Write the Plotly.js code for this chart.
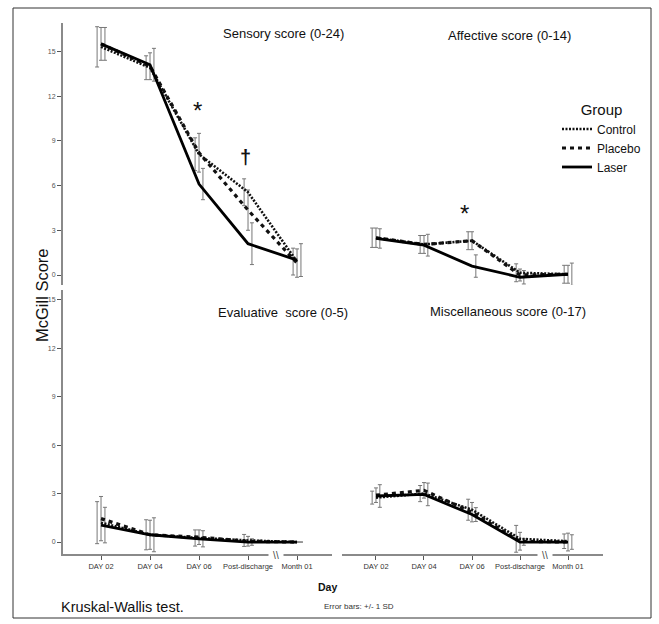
<!DOCTYPE html>
<html>
<head>
<meta charset="utf-8">
<script src="https://cdn.plot.ly/plotly-3.0.1.min.js"></script>
<style>
html,body{margin:0;padding:0;background:#fff;}
#chart{width:659px;height:624px;}
</style>
</head>
<body>
<div id="chart"></div>
<script>
// ---- data ----
const days = ['DAY 02', 'DAY 04', 'DAY 06', 'Post-discharge', 'Month 01'];
const groups = ['Control', 'Placebo', 'Laser'];
const panelTitles = ['Sensory score (0-24)', 'Affective score (0-14)', 'Evaluative  score (0-5)', 'Miscellaneous score (0-17)'];

const sensoryControl = [15.3, 13.9, 8.1, 5.55, 0.9];
const sensoryPlacebo = [15.5, 14.0, 8.2, 4.35, 0.8];
const sensoryLaser   = [15.5, 14.1, 6.1, 2.1, 1.0];
const sensoryControlSD = [1.35, 0.8, 1.1, 0.9, 0.9];
const sensoryPlaceboSD = [1.1, 0.9, 1.3, 1.35, 0.95];
const sensoryLaserSD   = [1.1, 1.1, 1.05, 1.4, 1.1];

const affectiveControl = [2.5, 2.05, 2.3, 0.15, 0.05];
const affectivePlacebo = [2.5, 2.05, 2.3, 0.0, 0.05];
const affectiveLaser   = [2.45, 2.0, 0.6, -0.15, 0.05];
const affectiveControlSD = [0.65, 0.6, 0.6, 0.6, 0.6];
const affectivePlaceboSD = [0.65, 0.6, 0.6, 0.4, 0.6];
const affectiveLaserSD   = [0.65, 0.73, 0.75, 0.45, 0.75];

const evaluativeControl = [1.2, 0.45, 0.25, 0.1, 0];
const evaluativePlacebo = [1.45, 0.45, 0.3, 0.05, 0];
const evaluativeLaser   = [1.05, 0.45, 0.2, 0.0, 0];
const evaluativeControlSD = [1.3, 0.93, 0.5, 0.37, 0];
const evaluativePlaceboSD = [1.37, 0.9, 0.45, 0.3, 0];
const evaluativeLaserSD   = [1.1, 1.05, 0.5, 0.2, 0];

const miscControl = [2.75, 3.0, 2.0, 0.2, 0.05];
const miscPlacebo = [2.9, 3.2, 1.85, 0.05, 0.0];
const miscLaser   = [2.85, 2.95, 1.7, 0.0, 0.0];
const miscControlSD = [0.4, 0.5, 0.65, 0.83, 0.45];
const miscPlaceboSD = [0.45, 0.48, 0.6, 0.55, 0.55];
const miscLaserSD   = [0.7, 0.7, 0.43, 0.2, 0.45];

const yTicks = [0, 3, 6, 9, 12, 15];

// ---- build ----
const W = 659, H = 624;
const px = v => v / W;
const py = v => 1 - v / H;

const panels = [
  {xa: 'x',  ya: 'y',  vals: [sensoryControl, sensoryPlacebo, sensoryLaser], sds: [sensoryControlSD, sensoryPlaceboSD, sensoryLaserSD]},
  {xa: 'x2', ya: 'y2', vals: [affectiveControl, affectivePlacebo, affectiveLaser], sds: [affectiveControlSD, affectivePlaceboSD, affectiveLaserSD]},
  {xa: 'x3', ya: 'y3', vals: [evaluativeControl, evaluativePlacebo, evaluativeLaser], sds: [evaluativeControlSD, evaluativePlaceboSD, evaluativeLaserSD]},
  {xa: 'x4', ya: 'y4', vals: [miscControl, miscPlacebo, miscLaser], sds: [miscControlSD, miscPlaceboSD, miscLaserSD]}
];

const lineStyles = [
  {color: '#111', width: 2.6, dash: '2px,1.5px'},
  {color: '#111', width: 3.2, dash: '4px,4px'},
  {color: '#000', width: 2.8, dash: 'solid'}
];
const offsets = [-0.08, 0, 0.08];
const idx = days.map((d, i) => i);

const traces = [];
// error bars first (behind lines)
panels.forEach(p => {
  groups.forEach((g, gi) => {
    traces.push({
      type: 'scatter', mode: 'markers', xaxis: p.xa, yaxis: p.ya,
      x: idx.map(i => i + offsets[gi]), y: p.vals[gi],
      marker: {size: 1, color: 'rgba(0,0,0,0)'},
      error_y: {type: 'data', array: p.sds[gi], visible: true, color: '#777', thickness: 1, width: 2},
      showlegend: false, hoverinfo: 'skip'
    });
  });
});
panels.forEach((p, pi) => {
  groups.forEach((g, gi) => {
    traces.push({
      type: 'scatter', mode: 'lines', xaxis: p.xa, yaxis: p.ya,
      x: idx, y: p.vals[gi], name: g,
      line: lineStyles[gi],
      showlegend: pi === 0, legendgroup: g
    });
  });
});

const xLeftRange = [-0.776, 4.714];
const xRightRange = [-0.708, 4.729];
const yTopRange = [-0.67, 16.9];
const yBotRange = [-0.74, 15.6];
const topDom = [py(285), py(23)];
const botDom = [py(554), py(290)];
const leftDom = [px(63), px(332)];
const rightDom = [px(342), px(603)];

const hidden = {visible: false, showgrid: false, zeroline: false, fixedrange: true};
const yShown = {
  showline: true, linecolor: '#8a8a8a', linewidth: 2, ticks: 'outside', ticklen: 4, tickwidth: 1, tickcolor: '#555',
  tickvals: yTicks, ticktext: yTicks.map(String), tickfont: {size: 7, color: '#555', family: 'Liberation Sans, Arial, sans-serif'},
  showgrid: false, zeroline: false
};
const xShown = {
  showline: true, linecolor: '#8a8a8a', linewidth: 2, ticks: 'outside', ticklen: 4, tickwidth: 1, tickcolor: '#555',
  tickvals: idx, ticktext: days, tickfont: {size: 7.5, color: '#333', family: 'Liberation Sans, Arial, sans-serif'},
  showgrid: false, zeroline: false, tickangle: 0
};

const font = 'Liberation Sans, Arial, sans-serif';
function note(o) {
  return Object.assign({showarrow: false, xanchor: 'center', yanchor: 'middle'}, o);
}
const annotations = [
  note({xref: 'paper', yref: 'paper', x: px(283), y: py(33), text: panelTitles[0], font: {size: 13, family: font, color: '#111'}}),
  note({xref: 'paper', yref: 'paper', x: px(509), y: py(35), text: panelTitles[1], font: {size: 13, family: font, color: '#111'}}),
  note({xref: 'paper', yref: 'paper', x: px(283), y: py(312), text: panelTitles[2], font: {size: 13, family: font, color: '#111'}}),
  note({xref: 'paper', yref: 'paper', x: px(508), y: py(311), text: panelTitles[3], font: {size: 13, family: font, color: '#111'}}),
  note({xref: 'paper', yref: 'paper', x: px(42), y: py(295), text: 'McGill Score', textangle: -90, font: {size: 16.5, family: font, color: '#111'}}),
  note({xref: 'paper', yref: 'paper', x: px(327), y: py(587), text: '<b>Day</b>', font: {size: 10.5, family: font, color: '#111'}}),
  note({xref: 'paper', yref: 'paper', x: px(59), y: py(607), xanchor: 'left', text: 'Kruskal-Wallis test.', font: {size: 14.5, family: font, color: '#111'}}),
  note({xref: 'paper', yref: 'paper', x: px(322), y: py(606), xanchor: 'left', text: 'Error bars: +/- 1 SD', font: {size: 8, family: font, color: '#333'}}),
  // significance marks
  note({xref: 'x', yref: 'y', x: 1.96, y: 11.0, text: '*', font: {size: 24, family: font, color: '#111'}}),
  note({xref: 'x', yref: 'y', x: 2.94, y: 7.9, text: '<b>†</b>', font: {size: 20, family: font, color: '#111'}}),
  note({xref: 'x2', yref: 'y2', x: 1.85, y: 4.15, text: '*', font: {size: 24, family: font, color: '#111'}}),
  // axis breaks
  note({xref: 'x3', yref: 'paper', x: 3.57, y: py(555), text: '\\\\', bgcolor: '#fff', width: 12, height: 11, font: {size: 10, family: font, color: '#444'}}),
  note({xref: 'x4', yref: 'paper', x: 3.52, y: py(555), text: '\\\\', bgcolor: '#fff', width: 12, height: 11, font: {size: 10, family: font, color: '#444'}})
];

const layout = {
  width: W, height: H,
  margin: {l: 0, r: 0, t: 0, b: 0},
  paper_bgcolor: '#fff', plot_bgcolor: 'rgba(0,0,0,0)',
  font: {family: font},
  showlegend: true,
  legend: {
    x: px(557), y: py(95), xanchor: 'left', yanchor: 'top',
    bgcolor: 'rgba(0,0,0,0)', borderwidth: 0,
    title: {text: 'Group', side: 'top center', font: {size: 15, family: font, color: '#111'}},
    font: {size: 12, family: font, color: '#111'},
    itemwidth: 30, traceorder: 'normal'
  },
  xaxis: Object.assign({}, hidden, {domain: leftDom, range: xLeftRange, anchor: 'y'}),
  yaxis: Object.assign({}, yShown, {domain: topDom, range: yTopRange, anchor: 'x'}),
  xaxis2: Object.assign({}, hidden, {domain: rightDom, range: xRightRange, anchor: 'y2'}),
  yaxis2: Object.assign({}, hidden, {domain: topDom, range: yTopRange, anchor: 'x2'}),
  xaxis3: Object.assign({}, xShown, {domain: leftDom, range: xLeftRange, anchor: 'y3'}),
  yaxis3: Object.assign({}, yShown, {domain: botDom, range: yBotRange, anchor: 'x3'}),
  xaxis4: Object.assign({}, xShown, {domain: rightDom, range: xRightRange, anchor: 'y4'}),
  yaxis4: Object.assign({}, hidden, {domain: botDom, range: yBotRange, anchor: 'x4'}),
  annotations: annotations,
  shapes: [
    {type: 'rect', xref: 'paper', yref: 'paper', x0: px(13), x1: px(651), y0: py(618), y1: py(8), line: {color: '#333', width: 1}}
  ]
};

Plotly.newPlot('chart', traces, layout, {displayModeBar: false, staticPlot: true});
</script>
</body>
</html>
